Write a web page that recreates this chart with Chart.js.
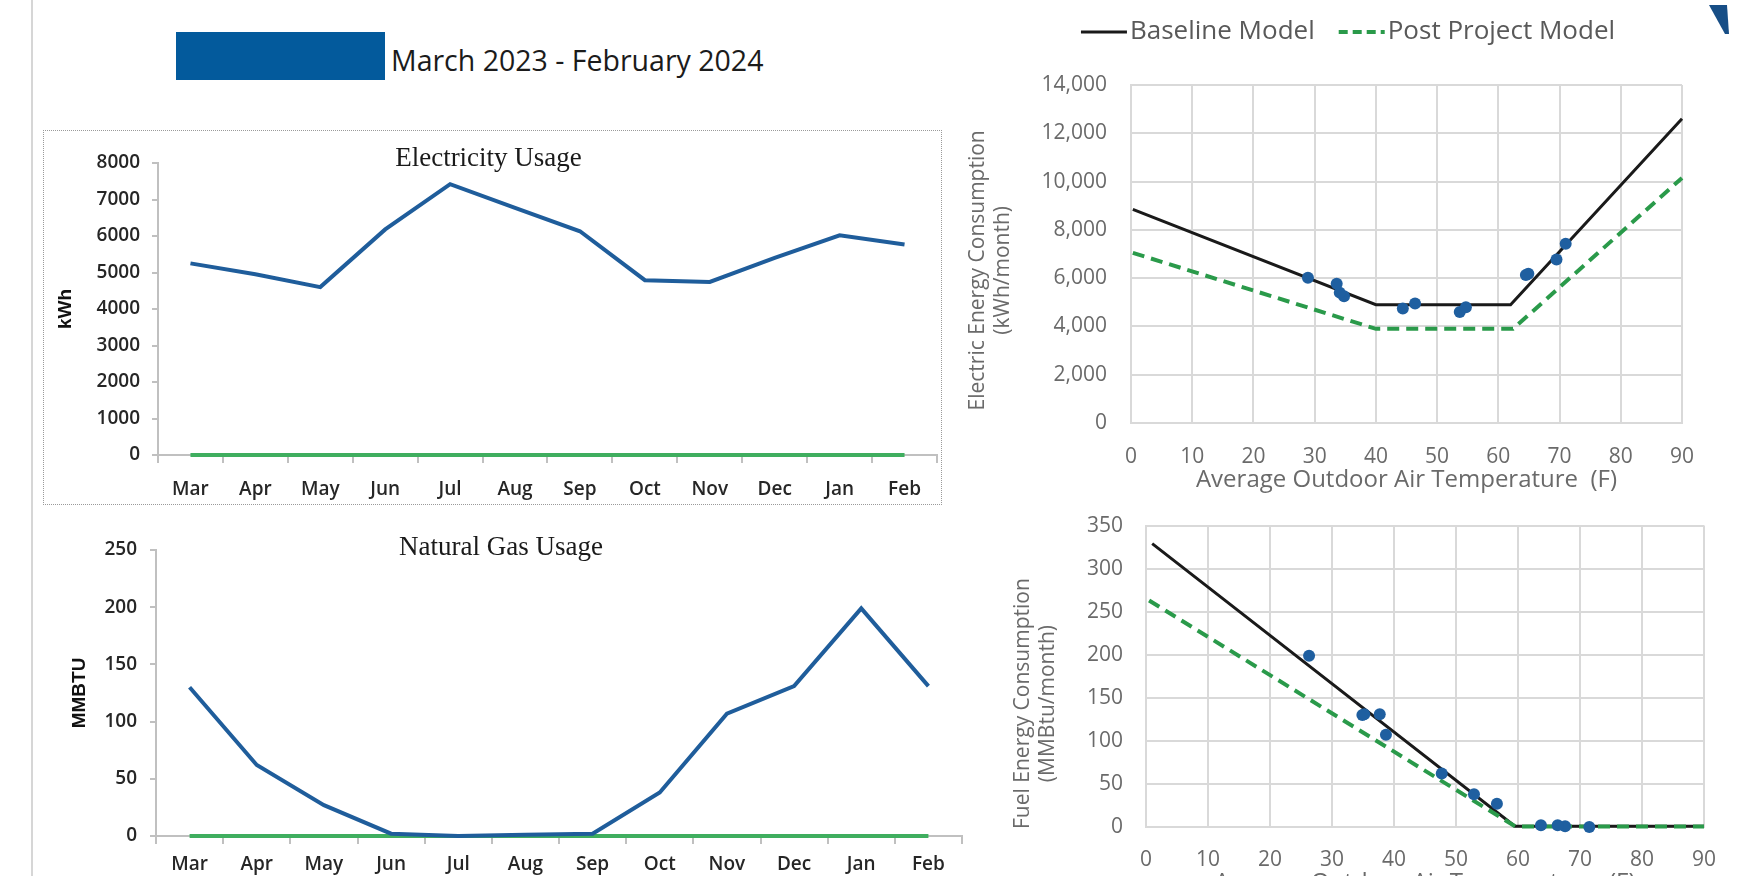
<!DOCTYPE html>
<html>
<head>
<meta charset="utf-8">
<title>Energy Usage and Models</title>
<script src="https://cdn.jsdelivr.net/npm/chart.js@4.4.1/dist/chart.umd.min.js"></script>
<style>
  html, body { margin: 0; padding: 0; background: #fff; }
  #page { position: relative; width: 1756px; height: 876px; overflow: hidden; background: #fff; font-family: 'Open Sans', sans-serif; }
  #page canvas { position: absolute; }
  .rule { position: absolute; left: 31px; top: 0; width: 2px; height: 876px; background: #d6d6d6; }
  .swatch { position: absolute; left: 176px; top: 32px; width: 209px; height: 48px; background: #035a9c; }
  .period { position: absolute; left: 391px; top: 40px; font-size: 28.5px; line-height: 40px; color: #1b1b1b; white-space: nowrap; }
  .frame { position: absolute; left: 43px; top: 130px; width: 899px; height: 375px; border: 1px dotted #9a9a9a; box-sizing: border-box; }
  .mark { position: absolute; left: 1709px; top: 5px; width: 20px; height: 29px; background: #174e86; clip-path: polygon(0 0, 90% 0, 100% 100%, 80% 100%); }
  #elecUsage { left: 40px; top: 130px; }
  #gasUsage { left: 40px; top: 515px; }
  #elecModel { left: 940px; top: 0; }
  #gasModel { left: 960px; top: 490px; }
</style>
</head>
<body>
<div id="page">
  <div class="rule"></div>
  <div class="frame"></div>
  <div class="swatch"></div>
  <div class="period">March 2023 - February 2024</div>
  <canvas id="elecUsage" width="976" height="375"></canvas>
  <canvas id="gasUsage" width="988" height="361"></canvas>
  <canvas id="elecModel" width="816" height="498"></canvas>
  <canvas id="gasModel" width="796" height="412"></canvas>
  <div class="mark"></div>
</div>
<script>
// Monthly billing data, March 2023 - February 2024
const months = ['Mar', 'Apr', 'May', 'Jun', 'Jul', 'Aug', 'Sep', 'Oct', 'Nov', 'Dec', 'Jan', 'Feb'];
const electricKwh = [5250, 4950, 4600, 6180, 7420, 6770, 6130, 4790, 4740, 5400, 6020, 5770];
const gasMmbtu = [130, 62, 27, 2, 0, 1, 2, 38, 107, 131, 199, 131];
const otherElectric = [0, 0, 0, 0, 0, 0, 0, 0, 0, 0, 0, 0];
const otherGas = [0, 0, 0, 0, 0, 0, 0, 0, 0, 0, 0, 0];

// Average outdoor air temperature (F) for each billing month
const electricTempF = [34.8, 46.4, 53.7, 64.9, 71.0, 69.5, 64.5, 54.7, 44.4, 34.1, 28.9, 33.6];
const gasTempF = [34.9, 47.7, 56.6, 63.7, 71.5, 67.6, 66.4, 52.9, 38.7, 37.7, 26.3, 35.2];

// Change-point models: temperature breakpoints and consumption
const elecBaselineTemp = [0.3, 40, 62, 90];
const elecBaselineKwh = [8850, 4900, 4900, 12600];
const elecPostTemp = [0.3, 40, 62.4, 90];
const elecPostKwh = [7050, 3900, 3900, 10150];
const gasBaselineTemp = [1, 59.5, 90];
const gasBaselineMmbtu = [329, 1, 1];
const gasPostTemp = [0.5, 59.6, 90];
const gasPostMmbtu = [263, 0.5, 0.5];

// Axis ranges: [min, max, step]
const kwhAxis = [0, 8000, 1000];
const mmbtuAxis = [0, 250, 50];
const tempAxis = [0, 90, 10];
const kwhModelAxis = [0, 14000, 2000];
const mmbtuModelAxis = [0, 350, 50];

const pairs = (xs, ys) => xs.map((x, i) => ({ x: x, y: ys[i] }));

Chart.defaults.font.family = "'Open Sans', sans-serif";
Chart.defaults.animation = false;
Chart.defaults.responsive = false;
Chart.defaults.maintainAspectRatio = false;
Chart.defaults.devicePixelRatio = 1;
Chart.defaults.events = [];
Chart.defaults.plugins.legend.display = false;
Chart.defaults.plugins.tooltip.enabled = false;

const AXIS_GREY = '#c0c0c0';
const USAGE_BLUE = '#1f5d9b';
const ZERO_GREEN = '#3fae5f';
const USAGE_TEXT = '#262626';

function usageChart(id, title, yTitle, values, zeros, range, box) {
  return new Chart(document.getElementById(id), {
    type: 'line',
    data: {
      labels: months,
      datasets: [
        { label: yTitle, data: values, borderColor: USAGE_BLUE, borderWidth: 4, pointRadius: 0, tension: 0, clip: false },
        { label: 'Other', data: zeros, borderColor: ZERO_GREEN, borderWidth: 4, pointRadius: 0, tension: 0, clip: false }
      ]
    },
    options: {
      layout: { padding: { left: 0, top: 0, bottom: 0, right: box.padRight } },
      plugins: {
        title: {
          display: true, text: title, color: '#1a1a1a',
          font: { family: "'Liberation Serif', serif", size: 27, weight: 'normal', lineHeight: 1.2 },
          padding: { top: box.titleTop, bottom: box.titleBottom }
        }
      },
      scales: {
        x: {
          offset: true,
          grid: { offset: true, drawOnChartArea: false, drawTicks: true, tickLength: 8, color: AXIS_GREY, lineWidth: 2 },
          border: { display: true, color: AXIS_GREY, width: 2 },
          ticks: { color: USAGE_TEXT, font: { size: 19, weight: '600' }, padding: box.xPad, maxRotation: 0, autoSkip: false },
          afterFit: s => { s.height = box.xHeight; }
        },
        y: {
          min: range[0], max: range[1],
          ticks: { stepSize: range[2], color: USAGE_TEXT, font: { size: 19, weight: '600' }, padding: box.yPad, callback: v => String(v) },
          grid: { drawOnChartArea: false, drawTicks: true, tickLength: 6, color: AXIS_GREY, lineWidth: 2 },
          border: { display: true, color: AXIS_GREY, width: 2 },
          title: {
            display: true, text: yTitle, color: '#111',
            font: { family: "'Liberation Sans', sans-serif", size: 19, weight: 'bold', lineHeight: 1.2 },
            padding: { top: box.yTitleTop, bottom: 0 }
          },
          afterFit: s => { s.width = box.yWidth; }
        }
      }
    }
  });
}

// Legend drawn as line samples followed by their labels
const modelLegend = {
  id: 'modelLegend',
  afterDraw(chart, _args, o) {
    if (!o || !o.order) return;
    const ctx = chart.ctx;
    const items = o.order.map(label => chart.data.datasets.find(d => d.label === label));
    ctx.save();
    ctx.font = o.size + "px " + o.family;
    ctx.textBaseline = 'middle';
    const widths = items.map(d => ctx.measureText(d.label).width);
    const total = widths.reduce((s, w) => s + o.sample + o.textGap + w, 0) + o.itemGap * (items.length - 1);
    let x = o.centerX - total / 2;
    items.forEach((d, i) => {
      ctx.beginPath();
      ctx.setLineDash(d.legendDash || []);
      ctx.strokeStyle = d.borderColor;
      ctx.lineWidth = d.borderWidth;
      ctx.moveTo(x, o.y);
      ctx.lineTo(x + o.sample, o.y);
      ctx.stroke();
      ctx.setLineDash([]);
      x += o.sample + o.textGap;
      ctx.fillStyle = o.color;
      ctx.fillText(d.label, x, o.y);
      x += widths[i] + o.itemGap;
    });
    ctx.restore();
  }
};

const MODEL_GRID = '#d9d9d9';
const MODEL_TEXT = '#6a6a6a';

function modelChart(id, yTitle, xTitle, obs, post, base, yRange, box, legend) {
  return new Chart(document.getElementById(id), {
    type: 'scatter',
    data: {
      datasets: [
        { label: 'Monthly Data', data: obs, showLine: false, pointRadius: 6, pointBackgroundColor: '#1f5fa0', pointBorderColor: '#1f5fa0', pointBorderWidth: 0, clip: false },
        { label: 'Post Project Model', data: post, showLine: true, borderColor: '#2a9a4a', borderWidth: 4, borderDash: [12, 7], legendDash: [9, 5], pointRadius: 0, tension: 0, clip: false },
        { label: 'Baseline Model', data: base, showLine: true, borderColor: '#1a1a1a', borderWidth: 3, pointRadius: 0, tension: 0, clip: false }
      ]
    },
    plugins: [modelLegend],
    options: {
      layout: { padding: { left: 0, top: box.padTop, bottom: 0, right: box.padRight } },
      plugins: { modelLegend: legend || {} },
      scales: {
        x: {
          type: 'linear', min: tempAxis[0], max: tempAxis[1],
          ticks: { stepSize: tempAxis[2], color: MODEL_TEXT, font: { size: 21 }, padding: box.xPad, maxRotation: 0 },
          grid: { drawTicks: false, color: MODEL_GRID, lineWidth: 2 },
          border: { display: true, color: MODEL_GRID, width: 2 },
          title: {
            display: !!xTitle, text: xTitle, color: MODEL_TEXT,
            font: { size: 24, lineHeight: 1.2 },
            padding: { top: 0, bottom: box.xTitleBottom }
          },
          afterFit: s => { s.height = box.xHeight; }
        },
        y: {
          type: 'linear', min: yRange[0], max: yRange[1],
          ticks: { stepSize: yRange[2], color: MODEL_TEXT, font: { size: 21 }, padding: box.yPad, callback: v => v.toLocaleString('en-US') },
          grid: { drawTicks: false, color: MODEL_GRID, lineWidth: 2 },
          border: { display: true, color: MODEL_GRID, width: 2 },
          title: {
            display: true, text: yTitle, color: MODEL_TEXT,
            font: { size: 21, lineHeight: 1.2 },
            padding: { top: box.yTitleTop, bottom: 0 }
          },
          afterFit: s => { s.width = box.yWidth; }
        }
      }
    }
  });
}

usageChart('elecUsage', 'Electricity Usage', 'kWh', electricKwh, otherElectric, kwhAxis,
  { padRight: 79, titleTop: 12.8, titleBottom: -12.2, xPad: 15, xHeight: 50, yPad: 12, yTitleTop: 14.6, yWidth: 118 });

usageChart('gasUsage', 'Natural Gas Usage', 'MMBTU', gasMmbtu, otherGas, mmbtuAxis,
  { padRight: 66, titleTop: 16.8, titleBottom: -14.2, xPad: 9.6, xHeight: 40, yPad: 13, yTitleTop: 28.6, yWidth: 116 });

// Rotated axis titles sit a little below the middle of the axis, so each line carries trailing spaces
modelChart('elecModel',
  ['Electric Energy Consumption      ', '(kWh/month)      '],
  'Average Outdoor Air Temperature  (F)',
  pairs(electricTempF, electricKwh),
  pairs(elecPostTemp, elecPostKwh),
  pairs(elecBaselineTemp, elecBaselineKwh),
  kwhModelAxis,
  { padTop: 85, padRight: 74, xPad: 21.4, xHeight: 75, xTitleBottom: 3.6, yPad: 24, yTitleTop: 25.4, yWidth: 191 },
  { order: ['Baseline Model', 'Post Project Model'], centerX: 408, y: 32, size: 26, family: "'Open Sans', sans-serif",
    color: '#595959', sample: 46, textGap: 3, itemGap: 24 });

modelChart('gasModel',
  ['Fuel Energy Consumption          ', '(MMBtu/month)          '],
  'Average Outdoor Air Temperature  (F)',
  pairs(gasTempF, gasMmbtu),
  pairs(gasPostTemp, gasPostMmbtu),
  pairs(gasBaselineTemp, gasBaselineMmbtu),
  mmbtuModelAxis,
  { padTop: 26, padRight: 52, xPad: 20.4, xHeight: 75, xTitleBottom: 4, yPad: 23, yTitleTop: 50, yWidth: 186 });
</script>
</body>
</html>
